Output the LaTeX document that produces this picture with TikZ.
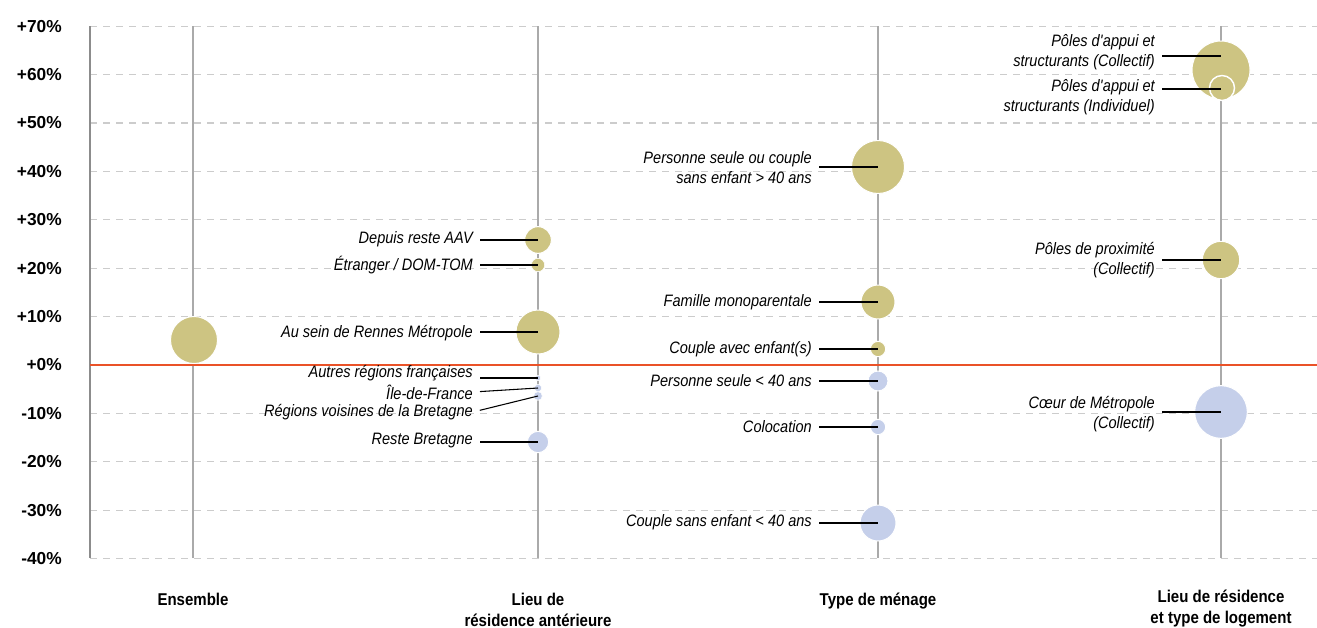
\documentclass[tikz,border=0pt]{standalone}
\usepackage{fontspec}
\setmainfont{Liberation Sans}[FakeStretch=0.88]
\newfontfamily\axisfont{Liberation Sans}
\definecolor{gold}{RGB}{205,196,130}
\definecolor{blu}{RGB}{197,207,234}
\definecolor{redl}{RGB}{234,82,40}
\definecolor{gridc}{RGB}{204,204,204}
\definecolor{colc}{RGB}{170,170,170}
\definecolor{axisc}{RGB}{140,140,140}
\begin{document}
\begin{tikzpicture}[x=0.75pt,y=-0.75pt,
  gridline/.style={gridc, line width=1pt, dash pattern=on 5.25pt off 4.5pt},
  colline/.style={colc, line width=1pt},
  lab/.style={anchor=east, inner sep=0pt, align=right, font=\fontsize{12.4}{15}\selectfont\itshape},
  ylab/.style={anchor=east, inner sep=0pt, font=\axisfont\bfseries\fontsize{13}{15}\selectfont},
  cat/.style={anchor=north, inner sep=0pt, align=center, font=\fontsize{12.8}{15.5}\selectfont\bfseries},
  bub/.style={circle, draw=white, line width=0.75pt, inner sep=0pt},
  gbub/.style={bub, fill=gold},
  bbub/.style={bub, fill=blu},
  tiny/.style={line width=0.4pt},
  leader/.style={black, line width=0.8pt, shorten <=5.25pt}
]
\useasboundingbox (0,0) rectangle (1317,628);
% horizontal dashed grid and y labels
\foreach \v/\t in {70/+70\%,60/+60\%,50/+50\%,40/+40\%,30/+30\%,20/+20\%,10/+10\%,0/+0\%,-10/-10\%,-20/-20\%,-30/-30\%,-40/-40\%}{
  \pgfmathsetmacro{\yy}{365-4.84*\v}
  \ifnum\v=0\else
    \draw[gridline] (90,\yy) -- (1317,\yy);
  \fi
  \node[ylab] (y\v) at (62,\yy) {\t};
}
% column lines
\draw[colline] (193,26) -- (193,558);
\draw[colline] (538,26) -- (538,558);
\draw[colline] (878,26) -- (878,558);
\draw[colline] (1221,26) -- (1221,558);
% axis line
\draw[axisc, line width=1.6pt] (90,26) -- (90,558);
% zero line
\draw[redl, line width=2pt] (90,365) -- (1317,365);

% ---- bubbles
\node[gbub, minimum size=35.25pt] (ens) at (194,340) {};
% column 2
\node[gbub, minimum size=20pt] (b21) at (538,240) {};
\node[gbub, tiny, minimum size=10pt] (b22) at (538,265) {};
\node[gbub, minimum size=33pt] (b23) at (538,332) {};
\node[bbub, tiny, minimum size=4pt] (b24) at (538,378) {};
\node[bbub, tiny, minimum size=5.5pt] (b25) at (538,388) {};
\node[bbub, tiny, minimum size=6.5pt] (b26) at (538,396) {};
\node[bbub, minimum size=16pt] (b27) at (538,442) {};
% column 3
\node[gbub, minimum size=39.75pt] (b31) at (878,167) {};
\node[gbub, minimum size=25.5pt] (b32) at (878,302) {};
\node[gbub, minimum size=11.5pt] (b33) at (878,349) {};
\node[bbub, minimum size=15pt] (b34) at (878,381) {};
\node[bbub, minimum size=11.5pt] (b35) at (878,427) {};
\node[bbub, minimum size=27pt] (b36) at (878,523) {};
% column 4
\node[gbub, minimum size=43.5pt] (b41) at (1221,70) {};
\node[gbub, draw=white, line width=1.1pt, minimum size=18.75pt] (b42) at (1222,88) {};
\node[gbub, minimum size=28pt] (b43) at (1221,260) {};
\node[bbub, minimum size=39.5pt] (b44) at (1221,412) {};
\coordinate (c41) at (1221,56);
\coordinate (c42) at (1221,89);

% ---- labels column 2
\node[lab] (l21) at (473,239) {Depuis reste AAV};
\node[lab] (l22) at (473,265) {Étranger / DOM-TOM};
\node[lab] (l23) at (473,333) {Au sein de Rennes Métropole};
\node[lab] (l24) at (473,373) {Autres régions françaises};
\node[lab] (l25) at (473,392) {Île-de-France};
\node[lab] (l26) at (473,412) {Régions voisines de la Bretagne};
\node[lab] (l27) at (473,441) {Reste Bretagne};
% labels column 3
\node[lab] (l31) at (812,168) {Personne seule ou couple\\sans enfant > 40 ans};
\node[lab] (l32) at (812,302) {Famille monoparentale};
\node[lab] (l33) at (812,349) {Couple avec enfant(s)};
\node[lab] (l34) at (812,381) {Personne seule < 40 ans};
\node[lab] (l35) at (812,427) {Colocation};
\node[lab] (l36) at (812,522) {Couple sans enfant < 40 ans};
% labels column 4
\node[lab] (l41) at (1155,52) {Pôles d\textquotesingle appui et\\structurants (Collectif)};
\node[lab] (l42) at (1155,97) {Pôles d\textquotesingle appui et\\structurants (Individuel)};
\node[lab] (l43) at (1155,260) {Pôles de proximité\\(Collectif)};
\node[lab] (l44) at (1155,414) {Cœur de Métropole\\(Collectif)};

% ---- leaders
\draw[leader] (l21.east |- b21.center) -- (b21.center);
\draw[leader] (l22.east |- b22.center) -- (b22.center);
\draw[leader] (l23.east |- b23.center) -- (b23.center);
\draw[leader] (l24.east |- b24.center) -- (b24.center);
\draw[leader] (l25.east) -- (b25.center);
\draw[leader] (l26.east) -- (b26.center);
\draw[leader] (l27.east |- b27.center) -- (b27.center);
\draw[leader] (l31.east |- b31.center) -- (b31.center);
\draw[leader] (l32.east |- b32.center) -- (b32.center);
\draw[leader] (l33.east |- b33.center) -- (b33.center);
\draw[leader] (l34.east |- b34.center) -- (b34.center);
\draw[leader] (l35.east |- b35.center) -- (b35.center);
\draw[leader] (l36.east |- b36.center) -- (b36.center);
\draw[leader] (l41.east |- c41) -- (c41);
\draw[leader] (l42.east |- c42) -- (c42);
\draw[leader] (l43.east |- b43.center) -- (b43.center);
\draw[leader] (l44.east |- b44.center) -- (b44.center);

% ---- categories
\node[cat] (k1) at (193,593) {Ensemble};
\node[cat] (k2) at (538,593) {Lieu de\\résidence antérieure};
\node[cat] (k3) at (878,593) {Type de ménage};
\node[cat] (k4) at (1221,590) {Lieu de résidence\\et type de logement};
\end{tikzpicture}
\end{document}
